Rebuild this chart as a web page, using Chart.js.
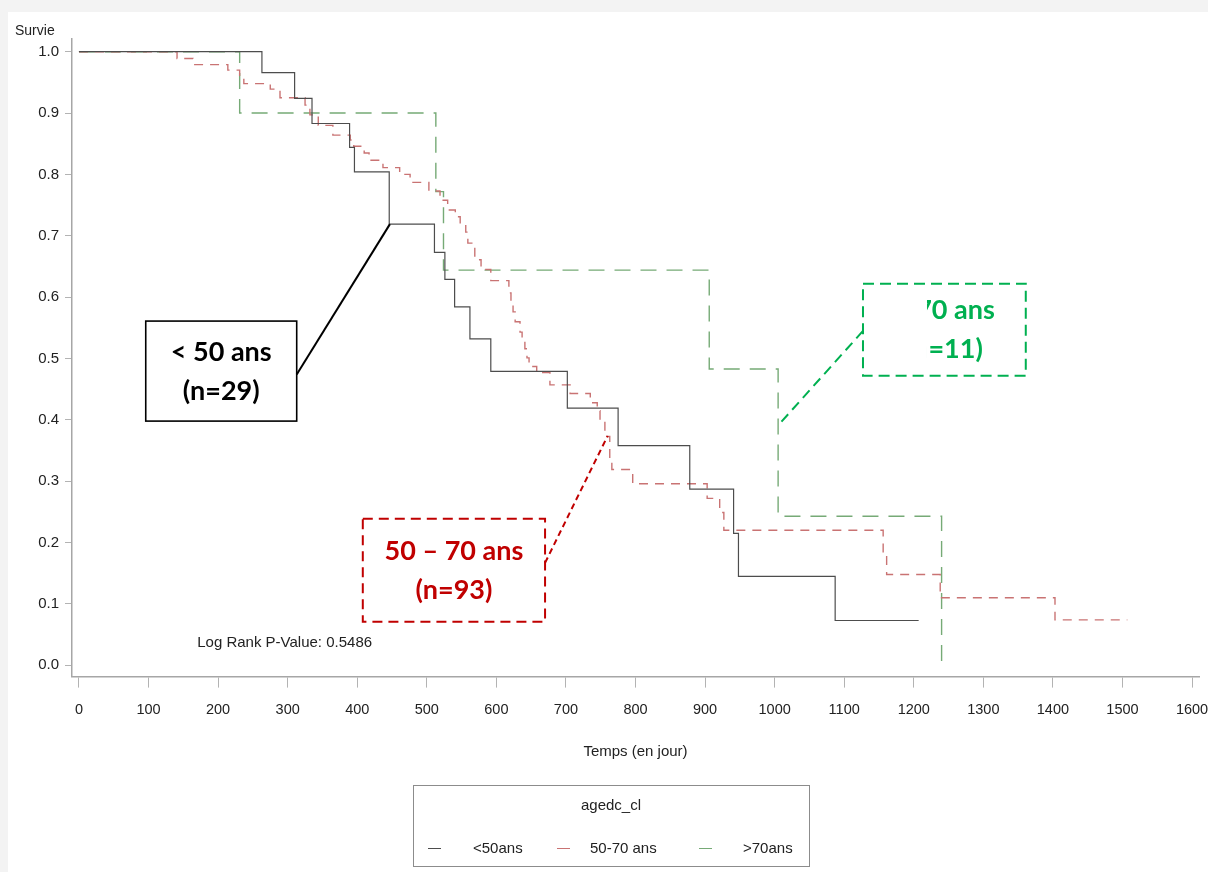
<!DOCTYPE html>
<html lang="fr">
<head>
  <meta charset="UTF-8">
  <title>Survie par classe d'âge</title>
  <script src="https://cdn.jsdelivr.net/npm/chart.js"></script>
  <style>
    body { margin: 0; background: #f3f3f3; }
    canvas { display: block; }
  </style>
</head>
<body>

  <canvas id="survieChart" width="1208" height="872"></canvas>

  <script>
    // Kaplan-Meier steps: day of each drop and the survival after it
    const groupLabels = ['<50ans', '50-70 ans', '>70ans'];

    const under50Days = [0, 263, 310, 335, 389, 396, 446, 511, 526, 540, 562, 592, 702, 775, 878, 941, 948, 1087, 1207];
    const under50Surv = [1.0, 0.966, 0.924, 0.883, 0.844, 0.804, 0.719, 0.673, 0.629, 0.584, 0.532, 0.479, 0.419, 0.358, 0.287, 0.215, 0.145, 0.073, 0.073];

    const mid5070Days = [0, 141, 164, 214, 231, 237, 275, 289, 325, 332, 344, 365, 390, 395, 410, 417, 437, 461, 476, 503,
                         519, 530, 541, 548, 556, 559, 569, 578, 592, 618, 621, 624, 627, 634, 637, 641, 644, 647, 658, 677,
                         706, 735, 745, 749, 756, 763, 766, 796, 903, 921, 927, 1156, 1161, 1238, 1403, 1507];
    const mid5070Surv = [1.0, 0.989, 0.979, 0.970, 0.957, 0.948, 0.939, 0.925, 0.913, 0.897, 0.880, 0.864, 0.856, 0.846, 0.835, 0.823, 0.811, 0.800, 0.787, 0.773,
                         0.758, 0.742, 0.731, 0.718, 0.706, 0.688, 0.661, 0.645, 0.627, 0.607, 0.591, 0.576, 0.560, 0.543, 0.530, 0.516, 0.501, 0.487, 0.477, 0.457,
                         0.443, 0.428, 0.415, 0.400, 0.373, 0.335, 0.319, 0.296, 0.272, 0.249, 0.220, 0.177, 0.148, 0.110, 0.074, 0.074];

    const over70Days = [0, 231, 513, 524, 906, 1005, 1240];
    const over70Surv = [1.0, 0.900, 0.772, 0.644, 0.483, 0.243, 0.0];

    const xTicks = [0, 100, 200, 300, 400, 500, 600, 700, 800, 900, 1000, 1100, 1200, 1300, 1400, 1500, 1600];
    const yTicks = [0, 0.1, 0.2, 0.3, 0.4, 0.5, 0.6, 0.7, 0.8, 0.9, 1.0];

    const pValueText = 'Log Rank P-Value: 0.5486';

    const toPoints = (days, surv) => days.map((d, i) => ({ x: d, y: surv[i] }));

    const lineColors = ['#4d4d4d', '#c97373', '#76aa76'];
    const sansFont = "'Liberation Sans', Arial, sans-serif";

    // callout boxes, placed in data units (corners, then the leader line)
    const callouts = [
      { lines: ['< 50 ans', '(n=29)'], color: '#000000', dash: [], corner1: [96, 0.561], corner2: [313, 0.398],
        leader: [[313, 0.474], [447, 0.719]] },
      { lines: ['50 – 70 ans', '(n=93)'], color: '#c00000', dash: [10, 6], corner1: [408, 0.239], corner2: [670, 0.071],
        leader: [[670, 0.167], [760, 0.374]], leaderDash: [6, 4] },
      { lines: ['> 70 ans', '(n=11)'], color: '#00b050', dash: [11, 6], corner1: [1127, 0.622], corner2: [1361, 0.472],
        leader: [[1127, 0.545], [1009, 0.396]], leaderDash: [10, 6], hideBefore: 1219 }
    ];

    const decor = {
      id: 'decor',
      beforeDraw(chart) {
        const { ctx, width, height } = chart;
        ctx.save();
        ctx.fillStyle = '#f3f3f3';
        ctx.fillRect(0, 0, width, height);
        ctx.fillStyle = '#ffffff';
        ctx.fillRect(8, 12, width - 8, height - 12);
        ctx.restore();
      },
      afterDatasetsDraw(chart) {
        const { ctx } = chart;
        const xs = chart.scales.x, ys = chart.scales.y;
        const px = v => xs.getPixelForValue(v), py = v => ys.getPixelForValue(v);

        ctx.save();
        ctx.font = '15px ' + sansFont;
        ctx.fillStyle = '#222';
        ctx.textBaseline = 'middle';
        ctx.fillText(pValueText, px(170), py(0.037));

        callouts.forEach(c => {
          const l = px(c.corner1[0]), r = px(c.corner2[0]);
          const t = py(c.corner1[1]), b = py(c.corner2[1]);
          ctx.fillStyle = '#fff';
          ctx.fillRect(l, t, r - l, b - t);
          ctx.strokeStyle = c.color;
          ctx.lineWidth = c.dash.length ? 2 : 1.6;
          ctx.setLineDash(c.dash);
          ctx.strokeRect(l, t, r - l, b - t);

          ctx.beginPath();
          ctx.setLineDash(c.leaderDash || []);
          ctx.lineWidth = 2;
          ctx.moveTo(px(c.leader[0][0]), py(c.leader[0][1]));
          ctx.lineTo(px(c.leader[1][0]), py(c.leader[1][1]));
          ctx.stroke();
          ctx.setLineDash([]);

          ctx.save();
          if (c.hideBefore) {
            ctx.beginPath();
            ctx.rect(px(c.hideBefore), t, r - px(c.hideBefore), b - t);
            ctx.clip();
          }
          const cx = (l + r) / 2, cy = (t + b) / 2;
          ctx.font = 'bold 27px Lato, sans-serif';
          ctx.fillStyle = c.color;
          ctx.textAlign = 'center';
          ctx.fillText(c.lines[0], cx, cy - 19);
          ctx.fillText(c.lines[1], cx, cy + 20);
          ctx.restore();
        });
        ctx.restore();
      },
      afterDraw(chart) {
        const { ctx } = chart;
        ctx.save();
        ctx.fillStyle = '#222';
        ctx.textBaseline = 'middle';
        ctx.font = '14px ' + sansFont;
        ctx.fillText('Survie', 15, 31);

        // legend box under the axis title
        ctx.strokeStyle = '#8c8c8c';
        ctx.lineWidth = 1;
        ctx.strokeRect(413.5, 785.5, 396, 81);
        ctx.textAlign = 'center';
        ctx.font = '15px ' + sansFont;
        ctx.fillText('agedc_cl', 611, 806);
        const sampleX = [428, 557, 699], labelX = [473, 590, 743];
        ctx.textAlign = 'left';
        groupLabels.forEach((lab, i) => {
          ctx.strokeStyle = lineColors[i];
          ctx.beginPath();
          ctx.moveTo(sampleX[i], 848.5);
          ctx.lineTo(sampleX[i] + 13, 848.5);
          ctx.stroke();
          ctx.fillStyle = '#222';
          ctx.fillText(lab, labelX[i], 849);
        });
        ctx.restore();
      }
    };

    const ctx = document.getElementById('survieChart').getContext('2d');
    const survieChart = new Chart(ctx, {
      type: 'line',
      data: {
        datasets: [
          { label: groupLabels[0], data: toPoints(under50Days, under50Surv), borderColor: lineColors[0], borderWidth: 1.2 },
          { label: groupLabels[1], data: toPoints(mid5070Days, mid5070Surv), borderColor: lineColors[1], borderWidth: 1.4, borderDash: [9, 7] },
          { label: groupLabels[2], data: toPoints(over70Days, over70Surv), borderColor: lineColors[2], borderWidth: 1.4, borderDash: [16, 10] }
        ]
      },
      options: {
        responsive: false,
        animation: false,
        events: [],
        datasets: { line: { stepped: true, pointRadius: 0, fill: false } },
        layout: { padding: { top: 39, right: 9, left: 0, bottom: 111 } },
        plugins: { legend: { display: false }, tooltip: { enabled: false } },
        scales: {
          x: {
            type: 'linear',
            min: -10,
            max: 1610,
            afterBuildTicks: s => { s.ticks = xTicks.map(v => ({ value: v })); },
            // the last label may run to the canvas edge, as in the original
            afterFit: s => { s.paddingLeft = 0; s.paddingRight = 0; },
            grid: { drawOnChartArea: false, color: '#b3b3b3', tickLength: 11 },
            border: { color: '#a6a6a6', width: 1.5 },
            ticks: { padding: 14, color: '#222', font: { family: sansFont, size: 14.5 }, maxRotation: 0, callback: v => String(v) },
            title: { display: true, text: 'Temps (en jour)', color: '#222', font: { family: sansFont, size: 15 }, padding: { top: 10, bottom: 0 } }
          },
          y: {
            min: -0.0184,
            max: 1.0207,
            afterBuildTicks: s => { s.ticks = yTicks.map(v => ({ value: v })); },
            afterFit: s => { s.width = 72; },
            grid: { drawOnChartArea: false, color: '#b3b3b3', tickLength: 7 },
            border: { color: '#a6a6a6', width: 1.5 },
            ticks: { padding: 6, color: '#222', font: { family: sansFont, size: 15 }, callback: v => v.toFixed(1) }
          }
        }
      },
      plugins: [decor]
    });
  </script>

</body>
</html>
